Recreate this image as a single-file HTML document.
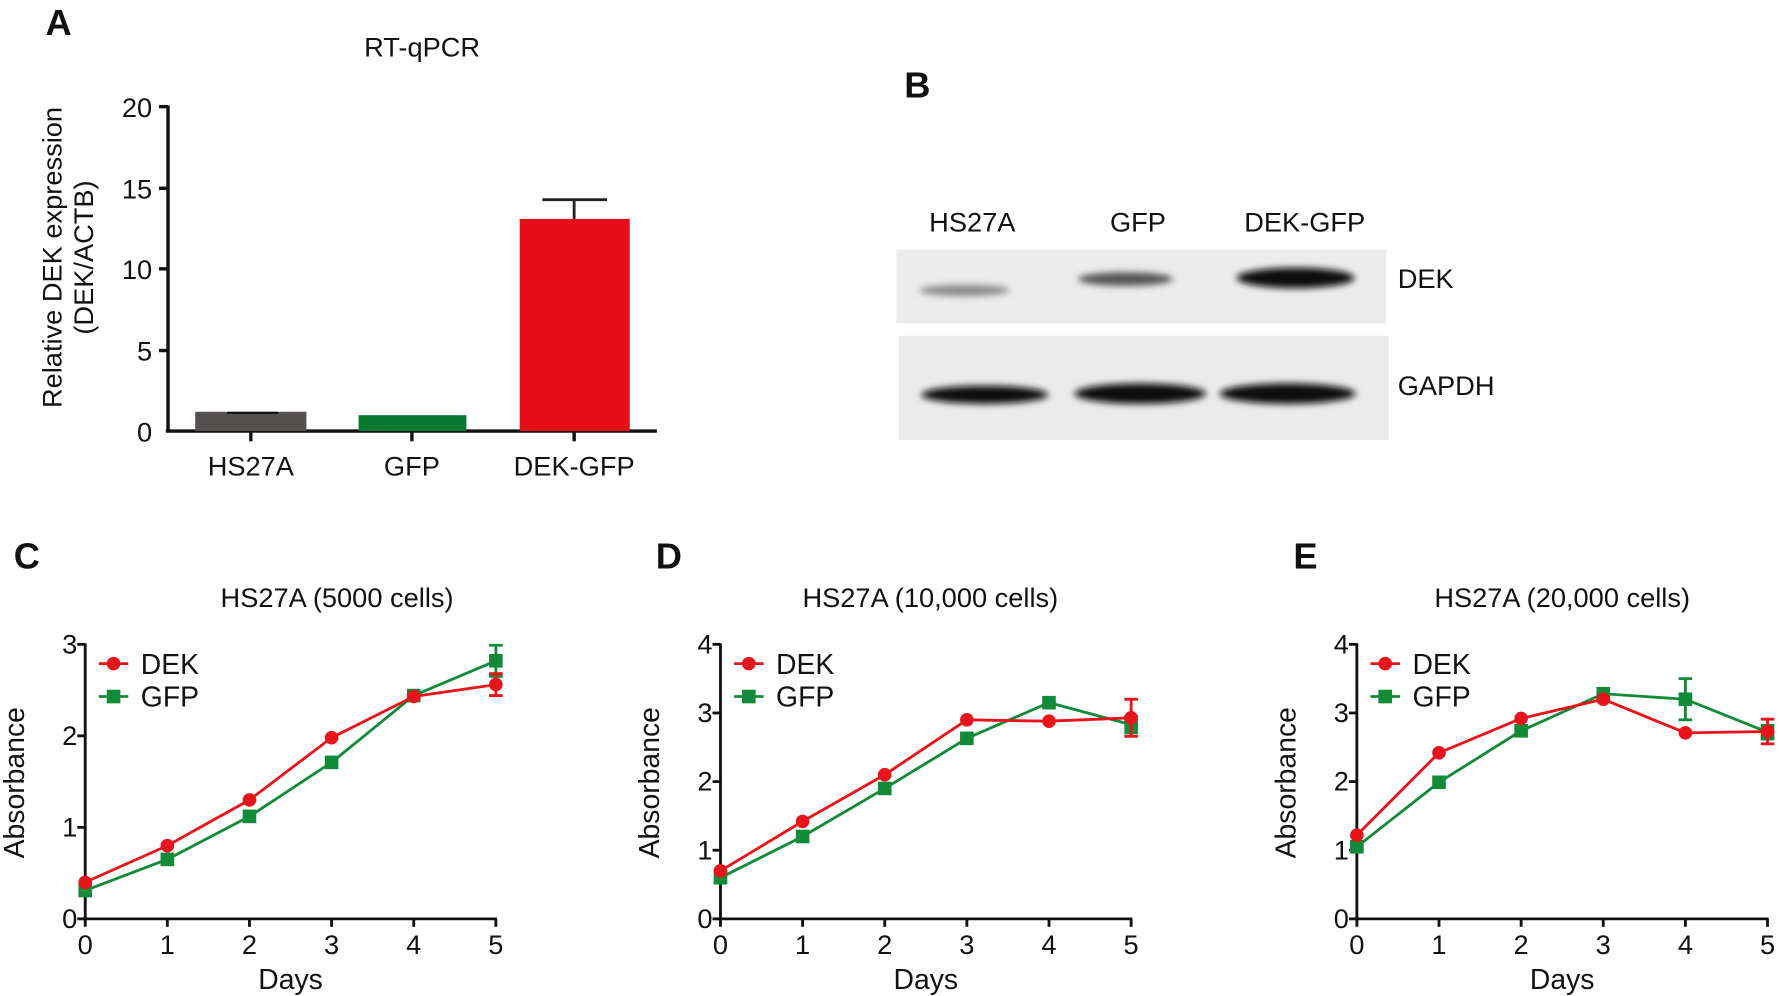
<!DOCTYPE html>
<html><head><meta charset="utf-8"><style>
html,body{margin:0;padding:0;background:#fff}
svg{display:block}
text{font-family:"Liberation Sans",Arial,sans-serif;fill:#111}
</style></head><body>
<svg id="s" width="1779" height="996" viewBox="0 0 1568 878" xmlns="http://www.w3.org/2000/svg">
<defs>
<filter id="bl" x="-20%" y="-50%" width="140%" height="200%"><feGaussianBlur stdDeviation="3"/></filter>
</defs>
<text x="40" y="31" font-size="32" font-weight="bold">A</text>
<text x="372" y="50" font-size="24" text-anchor="middle">RT-qPCR</text>
<g stroke="#111" stroke-width="3" fill="none">
<line x1="148" y1="93" x2="148" y2="381"/>
<line x1="146" y1="380" x2="579" y2="380"/>
<line x1="140" y1="94" x2="148" y2="94"/><line x1="140" y1="166" x2="148" y2="166"/><line x1="140" y1="237" x2="148" y2="237"/><line x1="140" y1="309" x2="148" y2="309"/>
<line x1="221" y1="380" x2="221" y2="389"/><line x1="363" y1="380" x2="363" y2="389"/><line x1="506" y1="380" x2="506" y2="389"/>
</g>
<g font-size="24" text-anchor="end">
<text x="134" y="103">20</text><text x="134" y="175">15</text><text x="134" y="246">10</text><text x="134" y="318">5</text><text x="134" y="389">0</text>
</g>
<rect x="172" y="363" width="98" height="17" fill="#545050"/>
<line x1="200" y1="364" x2="245" y2="364" stroke="#111" stroke-width="2"/>
<rect x="316" y="366" width="95" height="14" fill="#0a7a32"/>
<rect x="458" y="193" width="97" height="187" fill="#e60f19"/>
<g stroke="#222" stroke-width="2.5"><line x1="506" y1="193" x2="506" y2="176"/><line x1="478" y1="176" x2="535" y2="176"/></g>
<g font-size="24" text-anchor="middle">
<text x="221" y="419">HS27A</text><text x="363" y="419">GFP</text><text x="506" y="419">DEK-GFP</text>
</g>
<text transform="translate(54,227) rotate(-90)" font-size="24" text-anchor="middle">Relative DEK expression</text>
<text transform="translate(82,227) rotate(-90)" font-size="24" text-anchor="middle">(DEK/ACTB)</text>

<text x="797" y="86" font-size="32" font-weight="bold">B</text>
<g font-size="24" text-anchor="middle">
<text x="857" y="204">HS27A</text><text x="1003" y="204">GFP</text><text x="1150" y="204">DEK-GFP</text>
</g>
<rect x="790" y="220" width="432" height="65" fill="#ececec"/>
<rect x="792" y="296" width="432" height="92" fill="#ebebeb"/>
<g filter="url(#bl)">
<ellipse cx="850" cy="256" rx="40" ry="5" fill="#8a8a8a"/>
<ellipse cx="992" cy="246" rx="42" ry="6" fill="#555"/>
<ellipse cx="1142" cy="245" rx="52" ry="9" fill="#080808"/>
<ellipse cx="868" cy="348" rx="56" ry="8" fill="#111"/>
<ellipse cx="1005" cy="347" rx="58" ry="9" fill="#111"/>
<ellipse cx="1135" cy="347" rx="60" ry="9" fill="#111"/>
</g>
<text x="1232" y="254" font-size="24">DEK</text>
<text x="1232" y="348" font-size="24">GAPDH</text>
</svg>
<script>
var s=document.getElementById('s'),NS='http://www.w3.org/2000/svg';
function el(t,a,txt){var e=document.createElementNS(NS,t);for(var k in a)e.setAttribute(k,a[k]);if(txt!=null)e.textContent=txt;s.appendChild(e);return e;}
var R='#e8141c',G='#128a3a';
function panel(L,lx,title,tx,ax,ymax,dek,dekE,gfp,gfpE){
 el('text',{x:lx,y:501,'font-size':32,'font-weight':'bold'},L);
 el('text',{x:tx,y:535,'font-size':24,'text-anchor':'middle'},title);
 var y0=810,y1=568,x0=ax,x1=ax+362,dx=(x1-x0)/5,uy=(y0-y1)/ymax;
 el('line',{x1:x0,y1:y1-1,x2:x0,y2:y0+1,stroke:'#111','stroke-width':2.5});
 el('line',{x1:x0-1,y1:y0,x2:x1+1,y2:y0,stroke:'#111','stroke-width':2.5});
 for(var i=0;i<=ymax;i++){var y=y0-i*uy;el('line',{x1:x0-7,y1:y,x2:x0,y2:y,stroke:'#111','stroke-width':2.5});el('text',{x:x0-7,y:y+8,'font-size':24,'text-anchor':'end'},i);}
 for(var i=0;i<=5;i++){var x=x0+i*dx;el('line',{x1:x,y1:y0,x2:x,y2:y0+7,stroke:'#111','stroke-width':2.5});el('text',{x:x,y:y0+31,'font-size':24,'text-anchor':'middle'},i);}
 el('text',{x:x0+181,y:y0+62,'font-size':25,'text-anchor':'middle'},'Days');
 el('text',{transform:'translate('+(x0-54)+','+(y0-120)+') rotate(-90)','font-size':25,'text-anchor':'middle'},'Absorbance');
 function ser(d,E,c,sq){
  var p=d.map(function(v,i){return (x0+i*dx)+','+(y0-v*uy)}).join(' ');
  el('polyline',{points:p,fill:'none',stroke:c,'stroke-width':2.5});
  d.forEach(function(v,i){var x=x0+i*dx,y=y0-v*uy,e=E[i]||0;
   if(e){el('line',{x1:x,y1:y-e*uy,x2:x,y2:y+e*uy,stroke:c,'stroke-width':2.5});
    el('line',{x1:x-6,y1:y-e*uy,x2:x+6,y2:y-e*uy,stroke:c,'stroke-width':2.5});
    el('line',{x1:x-6,y1:y+e*uy,x2:x+6,y2:y+e*uy,stroke:c,'stroke-width':2.5});}
   if(sq)el('rect',{x:x-6,y:y-6,width:12,height:12,fill:c});else el('circle',{cx:x,cy:y,r:6,fill:c});});
 }
 ser(gfp,gfpE,G,true);ser(dek,dekE,R,false);
 var ly=y1+17;
 el('line',{x1:x0+12,y1:ly,x2:x0+38,y2:ly,stroke:R,'stroke-width':2.5});el('circle',{cx:x0+25,cy:ly,r:6,fill:R});
 el('text',{x:x0+49,y:ly+9,'font-size':25},'DEK');
 ly+=29;
 el('line',{x1:x0+12,y1:ly,x2:x0+38,y2:ly,stroke:G,'stroke-width':2.5});el('rect',{x:x0+19,y:ly-6,width:12,height:12,fill:G});
 el('text',{x:x0+49,y:ly+9,'font-size':25},'GFP');
}
panel('C',12,'HS27A (5000 cells)',297,75,3,[0.4,0.8,1.3,1.98,2.43,2.56],[0,0,0,0,0,0.12],[0.31,0.65,1.12,1.71,2.44,2.82],[0,0,0,0,0,0.17]);
panel('D',578,'HS27A (10,000 cells)',820,635,4,[0.7,1.42,2.1,2.9,2.88,2.93],[0,0,0,0,0,0.27],[0.6,1.2,1.9,2.63,3.15,2.83],[0,0,0,0,0,0.12]);
panel('E',1140,'HS27A (20,000 cells)',1377,1196,4,[1.22,2.42,2.92,3.2,2.71,2.73],[0,0,0,0,0,0.18],[1.05,1.99,2.74,3.28,3.2,2.72],[0,0,0,0,0.3,0.1]);
</script>
</body></html>
